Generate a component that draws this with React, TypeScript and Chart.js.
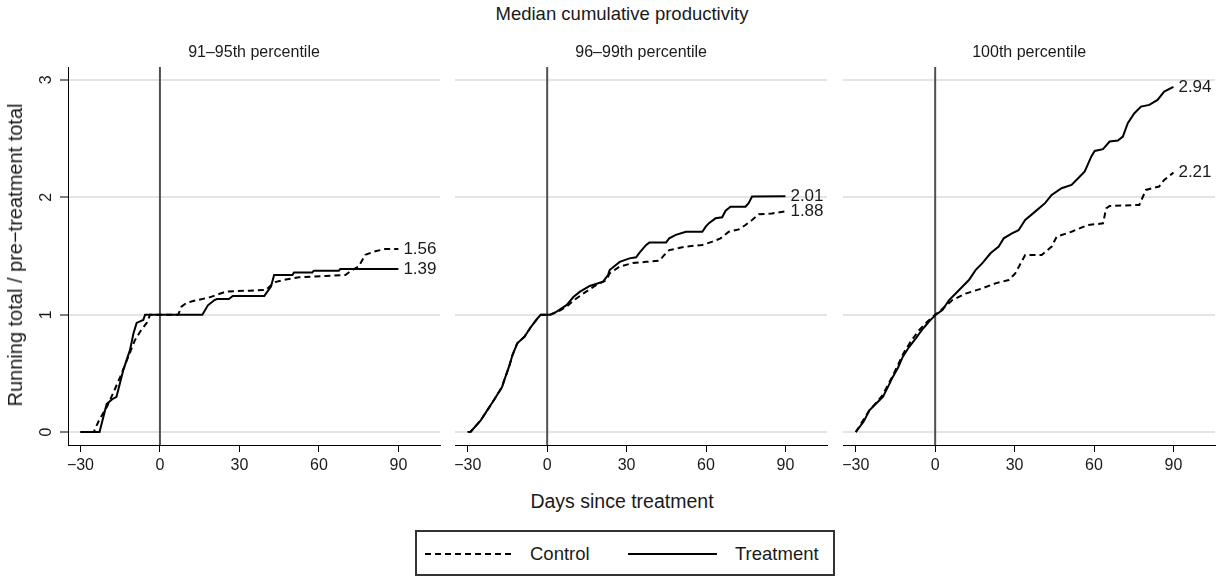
import React, { useEffect, useRef } from "react";
import { Chart, registerables } from "chart.js";

Chart.register(...registerables);

const FONT = '"Liberation Sans", Arial, Helvetica, sans-serif';
Chart.defaults.font.family = FONT;

// ---------------- data ----------------
const mainTitle = "Median cumulative productivity";
const xAxisTitle = "Days since treatment";
const yAxisTitle = "Running total / pre−treatment total";
const panelTitles = ["91–95th percentile", "96–99th percentile", "100th percentile"];
const seriesNames = ["Control", "Treatment"];
const xTicks = [-30, 0, 30, 60, 90];
const yTicks = [0, 1, 2, 3];

// Panel 1: 91–95th percentile
const p1ControlDays = [-30, -25, -23, -20, -17.5, -15, -12, -9.5, -7.5, -5, -3.7, 6.9, 8.1, 10, 12.5, 18.75, 21.25, 25, 33.75, 40, 41.9, 43.75, 47.5, 52.5, 62.5, 70, 72.5, 75, 77.5, 81.25, 85, 90];
const p1ControlVals = [0, 0, 0.1, 0.215, 0.34, 0.47, 0.64, 0.78, 0.855, 0.93, 1.0, 1.0, 1.068, 1.1, 1.116, 1.148, 1.168, 1.197, 1.205, 1.21, 1.25, 1.28, 1.3, 1.318, 1.33, 1.338, 1.38, 1.41, 1.51, 1.54, 1.56, 1.56];
const p1TreatDays = [-30, -22.8, -20.1, -18, -16.4, -13.8, -11.3, -10, -8.8, -6.3, -5.6, 16, 18.1, 20.6, 21.5, 26, 27.5, 39.4, 41.9, 43.1, 50, 50.6, 57.5, 58.1, 67.5, 68.1, 90];
const p1TreatVals = [0, 0, 0.24, 0.28, 0.3, 0.53, 0.7, 0.84, 0.93, 0.955, 1.0, 1.0, 1.08, 1.125, 1.134, 1.134, 1.16, 1.16, 1.24, 1.338, 1.338, 1.36, 1.36, 1.375, 1.375, 1.39, 1.39];

// Panel 2: 96–99th percentile
const p2ControlDays = [-30, -28.9, -25.1, -20.1, -17, -16.4, -14.4, -13.1, -11.3, -8.6, -6.1, -3.6, -2.4, 1.1, 3.6, 7.4, 9.9, 13.6, 18.6, 22.4, 23.6, 27.4, 32.4, 37.4, 42.4, 44.25, 46.1, 52.4, 58.6, 62.4, 65.5, 68.6, 72.4, 74.9, 77.4, 79.9, 84.9, 90];
const p2ControlVals = [0, 0.003, 0.1, 0.273, 0.386, 0.43, 0.557, 0.656, 0.756, 0.812, 0.897, 0.97, 1.0, 1.0, 1.02, 1.07, 1.12, 1.18, 1.254, 1.295, 1.352, 1.41, 1.44, 1.45, 1.46, 1.509, 1.55, 1.58, 1.594, 1.622, 1.65, 1.707, 1.727, 1.764, 1.807, 1.855, 1.863, 1.88];
const p2TreatDays = [-30, -28.9, -25.1, -20.1, -17, -16.4, -14.4, -13.1, -11.3, -8.6, -6.1, -3.6, -2.4, 1.1, 3.6, 7.4, 9.9, 12.4, 16.1, 21.1, 23, 23.6, 27.4, 31.1, 33.6, 34.9, 37.4, 38.6, 44.9, 46.1, 48.6, 52.4, 58.6, 59.9, 61.1, 63.6, 66.1, 67.4, 69.25, 74.9, 76.1, 77.4, 90];
const p2TreatVals = [0, 0.003, 0.1, 0.273, 0.386, 0.43, 0.557, 0.656, 0.756, 0.812, 0.897, 0.97, 1.0, 1.0, 1.026, 1.083, 1.15, 1.196, 1.245, 1.281, 1.338, 1.38, 1.45, 1.48, 1.489, 1.529, 1.594, 1.614, 1.614, 1.65, 1.68, 1.707, 1.707, 1.75, 1.78, 1.821, 1.83, 1.886, 1.92, 1.92, 1.95, 2.006, 2.01];

// Panel 3: 100th percentile
const p3ControlDays = [-30, -25, -20, -16, -12, -9, -6, -3, 0, 1.5, 6.5, 11.5, 17.75, 22.75, 27.75, 30.25, 34, 40.25, 44, 45.9, 51.5, 57.75, 63.4, 64.6, 65.9, 77.1, 79.6, 84.6, 86.5, 90];
const p3ControlVals = [0, 0.18, 0.31, 0.48, 0.67, 0.78, 0.87, 0.94, 1.0, 1.025, 1.125, 1.18, 1.224, 1.267, 1.295, 1.352, 1.509, 1.509, 1.58, 1.665, 1.707, 1.764, 1.778, 1.906, 1.926, 1.935, 2.063, 2.092, 2.148, 2.21];
const p3TreatDays = [-30, -27, -24.75, -22, -19.75, -17.5, -16, -14, -12.25, -10, -7.25, -5, -3.5, -2, 0.25, 2.75, 5.25, 7.75, 10.25, 12.75, 15.25, 17.75, 20.9, 24, 25.9, 29, 31.5, 34, 37.75, 41.5, 44, 47.75, 51.5, 54, 56.5, 59, 60.25, 63.4, 65.9, 69, 70.9, 72.75, 75.25, 77.75, 80.9, 84, 86.5, 90];
const p3TreatVals = [0, 0.09, 0.187, 0.25, 0.3, 0.4, 0.47, 0.55, 0.64, 0.72, 0.8, 0.87, 0.91, 0.95, 1.0, 1.04, 1.125, 1.18, 1.238, 1.295, 1.38, 1.437, 1.523, 1.58, 1.651, 1.693, 1.72, 1.807, 1.878, 1.95, 2.02, 2.077, 2.105, 2.162, 2.22, 2.348, 2.395, 2.41, 2.475, 2.483, 2.517, 2.631, 2.716, 2.773, 2.787, 2.83, 2.9, 2.94];

const panelData = [
  { controlDays: p1ControlDays, controlVals: p1ControlVals, treatDays: p1TreatDays, treatVals: p1TreatVals },
  { controlDays: p2ControlDays, controlVals: p2ControlVals, treatDays: p2TreatDays, treatVals: p2TreatVals },
  { controlDays: p3ControlDays, controlVals: p3ControlVals, treatDays: p3TreatDays, treatVals: p3TreatVals },
];

// ---------------- layout ----------------
const X_MIN = -34.7;
const X_MAX = 105.7;
const Y_MIN = -0.11;
const Y_MAX = 3.11;
const CANVAS_TOP = 30;
const PLOT_BOTTOM = 445;
const X_AXIS_H = 40;
const RIGHT_PAD = 3;
const panelBoxes = [
  { canvasLeft: 0, plotLeft: 68, plotRight: 440 },
  { canvasLeft: 450, plotLeft: 455, plotRight: 827 },
  { canvasLeft: 838, plotLeft: 843, plotRight: 1215 },
];
const TEXT = "#1a1a1a";
const GRID = "#e4e4e4";

const toPoints = (days: number[], vals: number[]) => days.map((d, i) => ({ x: d, y: vals[i] }));
const fmtTick = (v: number) => (v < 0 ? "−" + Math.abs(v) : String(v));

const endLabelPlugin = {
  id: "endLabels",
  afterDatasetsDraw(chart: any) {
    const ctx = chart.ctx;
    chart.data.datasets.forEach((ds: any, i: number) => {
      if (!ds.endLabel) return;
      const meta = chart.getDatasetMeta(i);
      const pt = meta.data[meta.data.length - 1];
      if (!pt) return;
      ctx.save();
      ctx.font = `17px ${FONT}`;
      ctx.fillStyle = TEXT;
      ctx.textBaseline = "middle";
      ctx.textAlign = "left";
      ctx.fillText(ds.endLabel, pt.x + 5, pt.y);
      ctx.restore();
    });
  },
};

function Panel({ index }: { index: number }) {
  const ref = useRef<HTMLCanvasElement | null>(null);
  const box = panelBoxes[index];
  const width = box.plotRight + RIGHT_PAD - box.canvasLeft;
  const height = PLOT_BOTTOM + X_AXIS_H - CANVAS_TOP;
  const showY = index === 0;

  useEffect(() => {
    if (!ref.current) return;
    const d = panelData[index];
    const lastC = d.controlVals[d.controlVals.length - 1];
    const lastT = d.treatVals[d.treatVals.length - 1];
    const chart = new Chart(ref.current, {
      type: "line",
      data: {
        datasets: [
          {
            label: seriesNames[0],
            data: toPoints(d.controlDays, d.controlVals),
            borderColor: "#000",
            borderWidth: 2,
            borderDash: [6, 4],
            pointRadius: 0,
            tension: 0,
            fill: false,
            order: 2,
            endLabel: lastC.toFixed(2),
          } as any,
          {
            label: seriesNames[1],
            data: toPoints(d.treatDays, d.treatVals),
            borderColor: "#000",
            borderWidth: 2,
            pointRadius: 0,
            tension: 0,
            fill: false,
            order: 1,
            endLabel: lastT.toFixed(2),
          } as any,
          {
            label: "zero",
            data: [
              { x: 0, y: Y_MIN },
              { x: 0, y: Y_MAX },
            ],
            borderColor: "#505050",
            borderWidth: 2,
            pointRadius: 0,
            fill: false,
            order: 10,
          },
        ],
      },
      options: {
        responsive: false,
        maintainAspectRatio: false,
        animation: false,
        events: [],
        layout: { padding: { left: 0, right: RIGHT_PAD, top: 0, bottom: 0 } },
        plugins: {
          legend: { display: false },
          tooltip: { enabled: false },
          title: {
            display: true,
            text: panelTitles[index],
            fullSize: false,
            color: TEXT,
            font: { size: 16, weight: "normal", family: FONT },
            padding: { top: 13.2, bottom: 4.6 },
          },
        },
        scales: {
          x: {
            type: "linear",
            min: X_MIN,
            max: X_MAX,
            afterBuildTicks: (s: any) => {
              s.ticks = xTicks.map((v) => ({ value: v }));
            },
            afterFit: (s: any) => {
              s.height = X_AXIS_H;
            },
            ticks: {
              color: TEXT,
              font: { size: 16, family: FONT },
              padding: 4,
              maxRotation: 0,
              minRotation: 0,
              callback: (v: any) => fmtTick(Number(v)),
            },
            grid: {
              drawOnChartArea: false,
              drawTicks: true,
              tickLength: 7,
              tickColor: "#000",
              tickWidth: 1,
            },
            border: { display: true, color: "#000", width: 1 },
          },
          y: {
            type: "linear",
            min: Y_MIN,
            max: Y_MAX,
            position: "left",
            afterBuildTicks: (s: any) => {
              s.ticks = yTicks.map((v) => ({ value: v }));
            },
            afterFit: (s: any) => {
              s.width = box.plotLeft - box.canvasLeft;
            },
            ticks: {
              display: showY,
              color: TEXT,
              font: { size: 16, family: FONT },
              minRotation: 90,
              maxRotation: 90,
              crossAlign: "center",
              padding: 9,
              callback: (v: any) => fmtTick(Number(v)),
            },
            grid: {
              color: GRID,
              lineWidth: 2,
              drawTicks: showY,
              tickLength: showY ? 8 : 0,
              tickColor: "#000",
              tickWidth: 1,
            },
            border: { display: showY, color: "#000", width: 1 },
          },
        },
      },
      plugins: [endLabelPlugin],
    } as any);
    return () => chart.destroy();
  }, [index]);

  return (
    <canvas
      ref={ref}
      width={width}
      height={height}
      style={{ position: "absolute", left: box.canvasLeft, top: CANVAS_TOP, width, height }}
    />
  );
}

const textStyle = (size: number): React.CSSProperties => ({
  position: "absolute",
  fontFamily: FONT,
  fontSize: size,
  lineHeight: 1,
  color: TEXT,
  whiteSpace: "nowrap",
});

export default function App() {
  return (
    <div style={{ position: "absolute", left: 0, top: 0, width: 1225, height: 578, background: "#fff", overflow: "hidden" }}>
      <div style={{ ...textStyle(18.5), left: 622, top: 14, transform: "translate(-50%, -50%)" }}>{mainTitle}</div>
      {[0, 1, 2].map((i) => (
        <Panel key={i} index={i} />
      ))}
      <div style={{ ...textStyle(20), left: 15, top: 255, transform: "translate(-50%, -50%) rotate(-90deg)" }}>{yAxisTitle}</div>
      <div style={{ ...textStyle(19.5), left: 622, top: 502, transform: "translate(-50%, -50%)" }}>{xAxisTitle}</div>
      <div
        style={{
          position: "absolute",
          left: 415,
          top: 530,
          width: 420,
          height: 46,
          boxSizing: "border-box",
          border: "2px solid #333",
          background: "#fff",
        }}
      >
        <svg width={416} height={42} style={{ position: "absolute", left: 0, top: 0 }}>
          <line x1={8} y1={22} x2={98} y2={22} stroke="#000" strokeWidth={2} strokeDasharray="6 4" />
          <line x1={211} y1={22} x2={300} y2={22} stroke="#000" strokeWidth={2} />
        </svg>
        <div style={{ ...textStyle(18.5), left: 113, top: 22, transform: "translate(0, -50%)" }}>{seriesNames[0]}</div>
        <div style={{ ...textStyle(18.5), left: 318, top: 22, transform: "translate(0, -50%)" }}>{seriesNames[1]}</div>
      </div>
    </div>
  );
}
